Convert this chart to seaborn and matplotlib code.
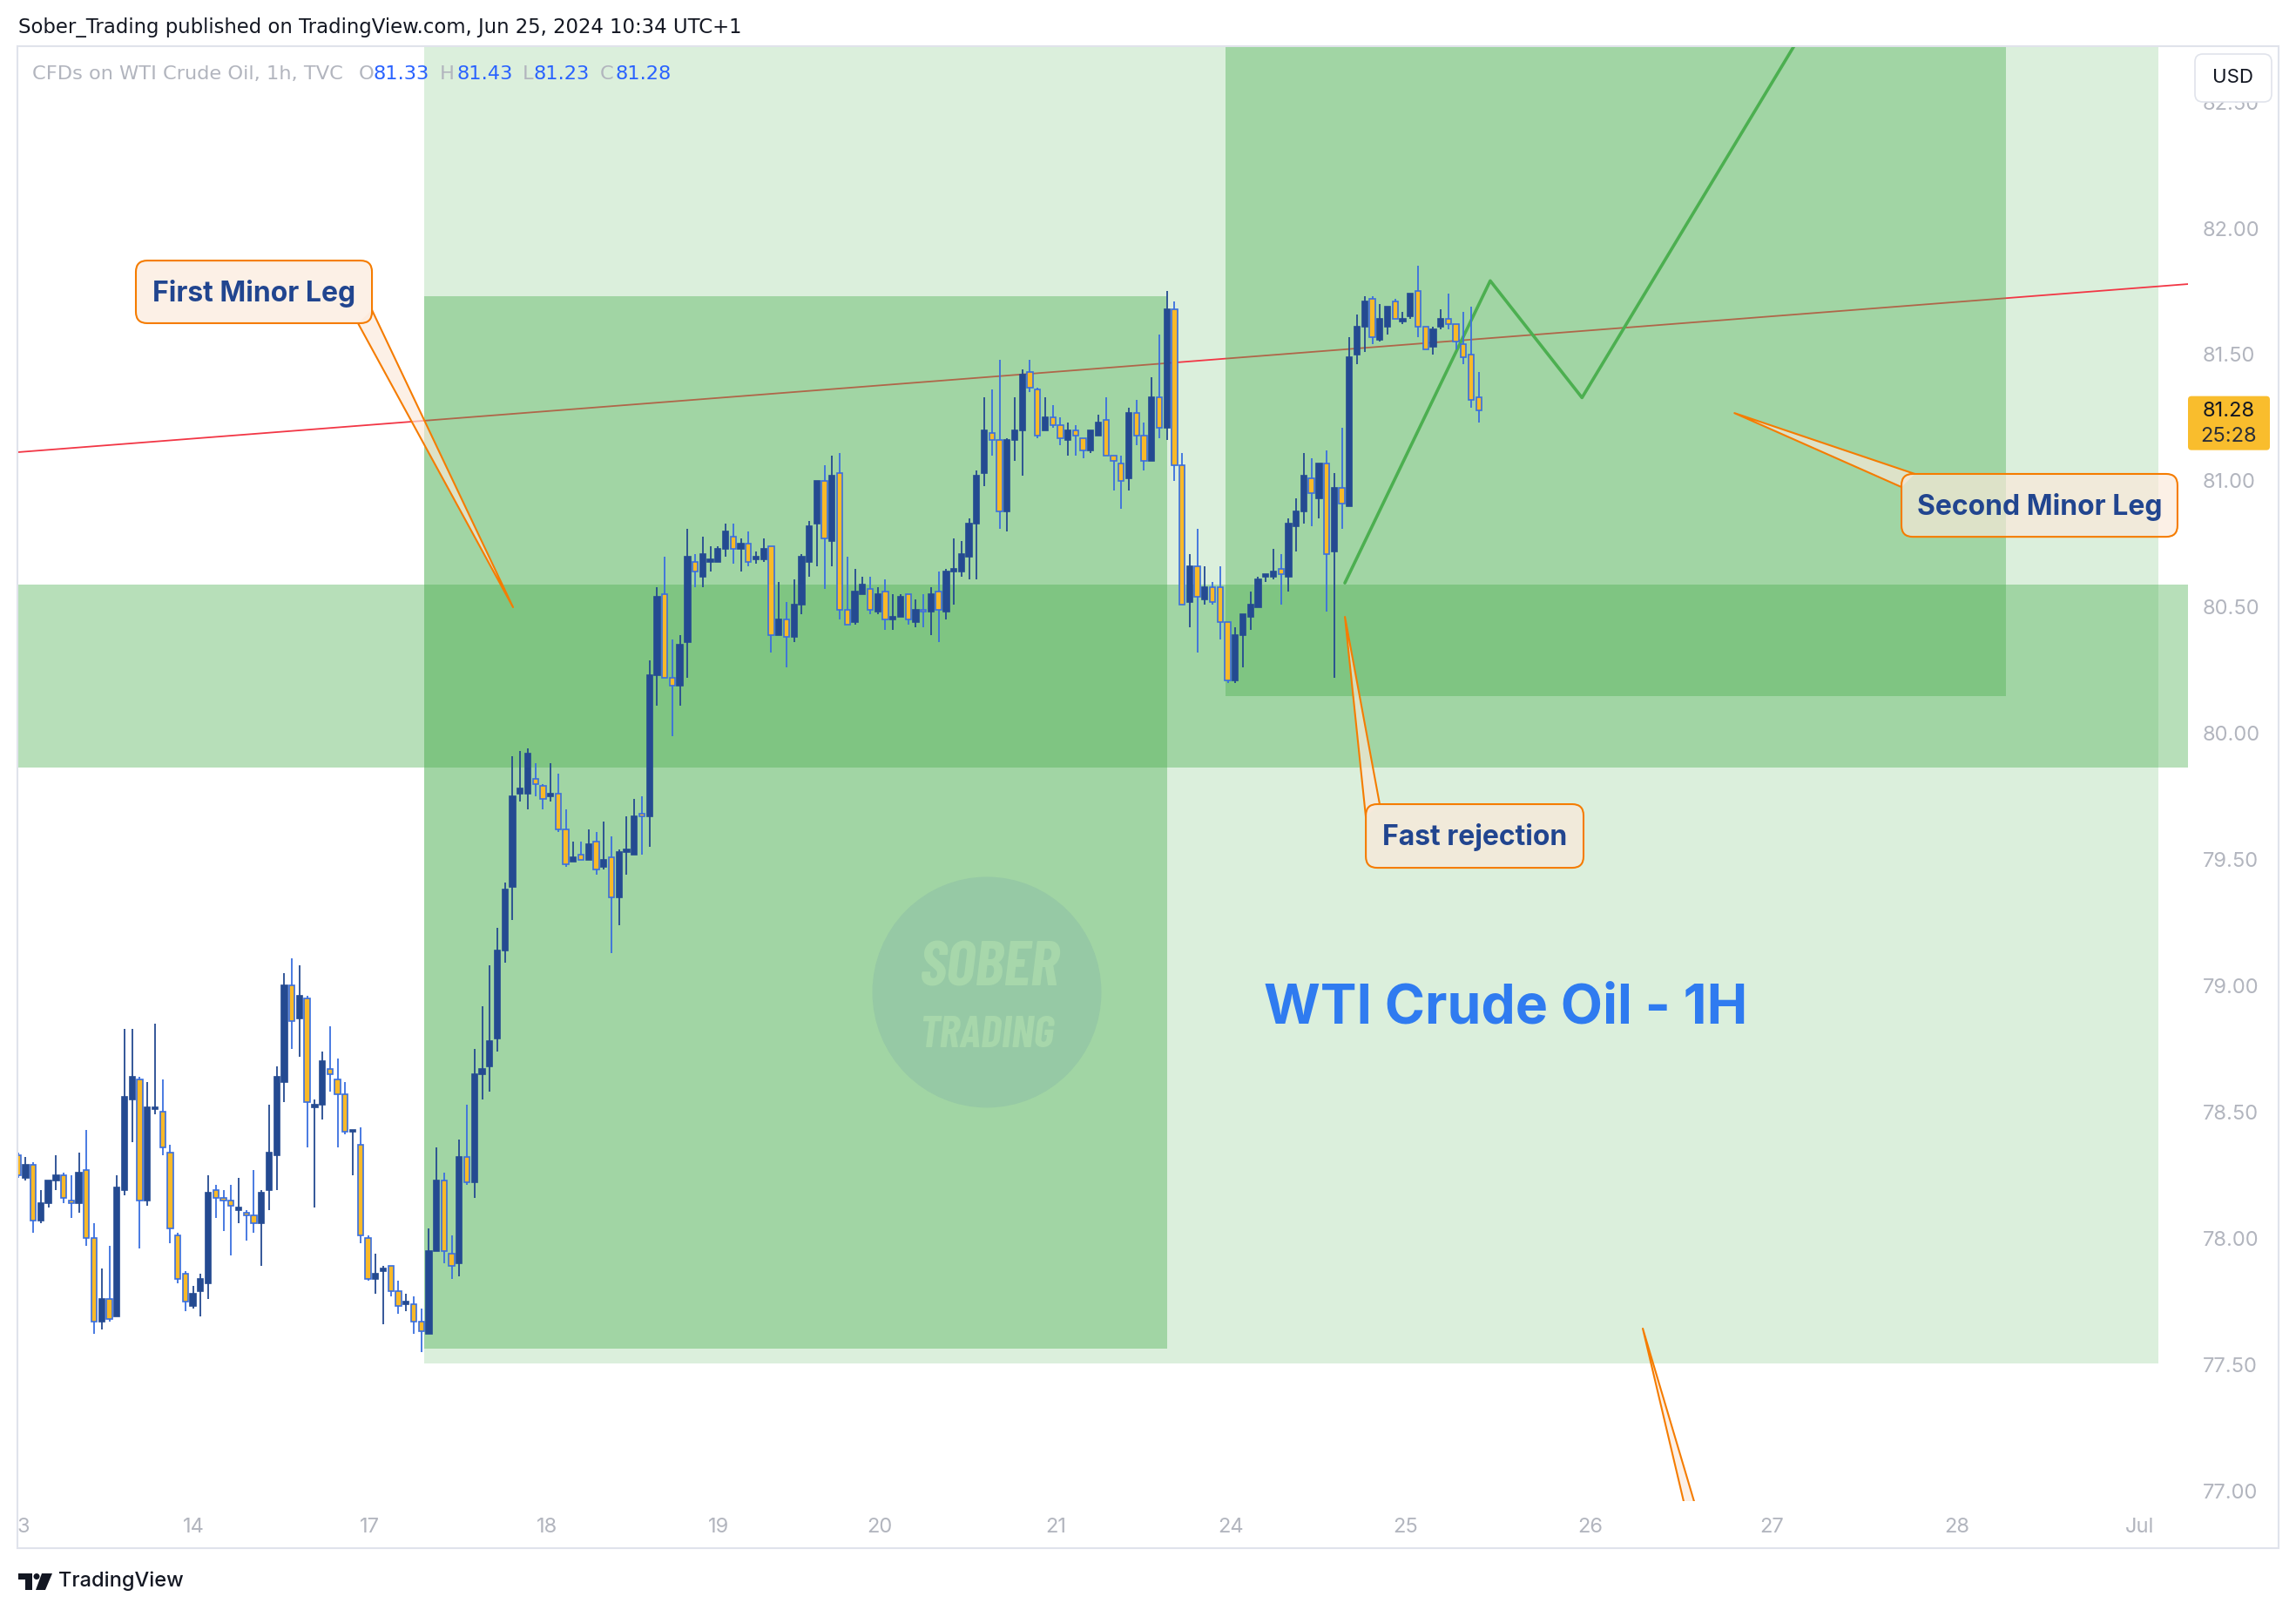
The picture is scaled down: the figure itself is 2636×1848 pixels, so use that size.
import numpy as np
import pandas as pd
import seaborn as sns
import matplotlib.pyplot as plt
from matplotlib.patches import Rectangle, FancyBboxPatch, Polygon, Ellipse, Circle
from matplotlib import transforms as mtransforms

# WTI crude oil CFD (TVC), 1h candles, 13 Jun -> 25 Jun 2024
opens = [
    78.33, 78.24, 78.29, 78.07, 78.14, 78.23, 78.25, 78.15, 78.14, 78.27,
    78.00, 77.67, 77.76, 77.69, 78.19, 78.55, 78.63, 78.15, 78.51, 78.50,
    78.34, 78.01, 77.86, 77.73, 77.79, 77.82, 78.19, 78.16, 78.15, 78.11,
    78.10, 78.09, 78.06, 78.19, 78.33, 78.62, 79.00, 78.87, 78.95, 78.52,
    78.53, 78.67, 78.63, 78.57, 78.42, 78.37, 78.00, 77.84, 77.87, 77.89,
    77.79, 77.74, 77.74, 77.67, 77.62, 77.95, 78.23, 77.94, 77.90, 78.32,
    78.22, 78.65, 78.68, 78.79, 79.14, 79.39, 79.76, 79.76, 79.82, 79.79,
    79.75, 79.76, 79.62, 79.49, 79.52, 79.50, 79.57, 79.47, 79.51, 79.35,
    79.53, 79.52, 79.68, 79.67, 80.23, 80.55, 80.22, 80.19, 80.36, 80.68,
    80.62, 80.68, 80.68, 80.73, 80.78, 80.73, 80.75, 80.69, 80.69, 80.74,
    80.39, 80.45, 80.38, 80.51, 80.68, 80.83, 81.00, 80.76, 81.03, 80.49,
    80.44, 80.55, 80.57, 80.48, 80.56, 80.45, 80.46, 80.55, 80.44, 80.49,
    80.48, 80.56, 80.48, 80.64, 80.64, 80.70, 80.83, 81.03, 81.19, 81.16,
    80.88, 81.16, 81.20, 81.43, 81.36, 81.20, 81.25, 81.22, 81.16, 81.20,
    81.17, 81.12, 81.18, 81.24, 81.10, 81.07, 81.01, 81.27, 81.18, 81.08,
    81.33, 81.21, 81.68, 81.06, 80.52, 80.66, 80.53, 80.58, 80.58, 80.44,
    80.21, 80.39, 80.46, 80.50, 80.62, 80.62, 80.65, 80.62, 80.82, 80.88,
    81.01, 80.93, 81.07, 80.72, 80.97, 80.90, 81.50, 81.61, 81.72, 81.56,
    81.61, 81.71, 81.63, 81.65, 81.75, 81.61, 81.53, 81.61, 81.64, 81.62,
    81.54, 81.50, 81.33,
]
highs = [
    78.34, 78.32, 78.30, 78.19, 78.23, 78.33, 78.26, 78.25, 78.34, 78.43,
    78.06, 77.88, 77.97, 78.25, 78.83, 78.83, 78.64, 78.62, 78.85, 78.63,
    78.37, 78.02, 77.87, 77.81, 77.86, 78.25, 78.21, 78.19, 78.21, 78.24,
    78.11, 78.27, 78.19, 78.53, 78.68, 79.05, 79.11, 79.08, 78.96, 78.55,
    78.74, 78.84, 78.71, 78.62, 78.43, 78.44, 78.01, 77.94, 77.89, 77.89,
    77.83, 77.78, 77.77, 77.72, 78.04, 78.36, 78.26, 78.01, 78.39, 78.53,
    78.75, 78.92, 79.08, 79.23, 79.41, 79.91, 79.93, 79.94, 79.88, 79.80,
    79.88, 79.84, 79.70, 79.57, 79.57, 79.62, 79.61, 79.65, 79.59, 79.54,
    79.67, 79.74, 79.75, 80.29, 80.58, 80.70, 80.37, 80.39, 80.81, 80.71,
    80.78, 80.74, 80.74, 80.83, 80.83, 80.77, 80.80, 80.72, 80.77, 80.74,
    80.60, 80.52, 80.61, 80.71, 80.84, 81.00, 81.06, 81.10, 81.11, 80.70,
    80.65, 80.62, 80.62, 80.58, 80.61, 80.55, 80.55, 80.55, 80.53, 80.55,
    80.58, 80.64, 80.65, 80.77, 80.76, 80.85, 81.04, 81.33, 81.36, 81.48,
    81.17, 81.33, 81.44, 81.48, 81.37, 81.33, 81.30, 81.25, 81.23, 81.22,
    81.17, 81.20, 81.26, 81.33, 81.10, 81.10, 81.29, 81.32, 81.23, 81.41,
    81.58, 81.75, 81.71, 81.11, 80.71, 80.81, 80.66, 80.60, 80.66, 80.44,
    80.42, 80.47, 80.56, 80.62, 80.63, 80.73, 80.71, 80.85, 80.93, 81.11,
    81.09, 81.07, 81.12, 81.03, 81.21, 81.57, 81.66, 81.73, 81.73, 81.70,
    81.69, 81.72, 81.67, 81.74, 81.85, 81.61, 81.61, 81.68, 81.74, 81.62,
    81.67, 81.69, 81.43,
]
lows = [
    78.24, 78.23, 78.02, 78.06, 78.12, 78.19, 78.14, 78.08, 78.10, 77.97,
    77.62, 77.64, 77.67, 77.69, 78.17, 78.38, 77.96, 78.13, 78.49, 78.33,
    77.98, 77.82, 77.71, 77.72, 77.69, 77.76, 78.08, 78.03, 77.93, 78.06,
    77.99, 78.02, 77.89, 78.11, 78.19, 78.54, 78.75, 78.72, 78.36, 78.12,
    78.47, 78.58, 78.36, 78.41, 78.25, 77.98, 77.83, 77.78, 77.66, 77.77,
    77.70, 77.71, 77.62, 77.55, 77.62, 77.95, 77.90, 77.84, 77.85, 78.21,
    78.16, 78.55, 78.58, 78.74, 79.09, 79.26, 79.73, 79.70, 79.75, 79.70,
    79.73, 79.61, 79.47, 79.49, 79.50, 79.50, 79.44, 79.46, 79.13, 79.24,
    79.44, 79.52, 79.52, 79.55, 80.11, 80.22, 79.99, 80.11, 80.22, 80.58,
    80.58, 80.64, 80.68, 80.70, 80.67, 80.64, 80.66, 80.67, 80.68, 80.32,
    80.39, 80.26, 80.36, 80.47, 80.62, 80.66, 80.57, 80.66, 80.45, 80.43,
    80.43, 80.55, 80.47, 80.47, 80.41, 80.41, 80.46, 80.43, 80.42, 80.42,
    80.39, 80.36, 80.45, 80.51, 80.62, 80.61, 80.61, 80.98, 81.10, 80.81,
    80.80, 81.08, 81.02, 81.35, 81.17, 81.20, 81.21, 81.14, 81.10, 81.10,
    81.09, 81.11, 81.18, 81.10, 80.96, 80.89, 80.96, 81.14, 81.04, 81.08,
    81.17, 81.16, 81.00, 80.51, 80.42, 80.32, 80.51, 80.51, 80.37, 80.20,
    80.20, 80.26, 80.41, 80.50, 80.60, 80.61, 80.51, 80.56, 80.72, 80.83,
    80.82, 80.85, 80.48, 80.22, 80.81, 80.90, 81.46, 81.51, 81.54, 81.55,
    81.58, 81.64, 81.62, 81.64, 81.57, 81.52, 81.50, 81.60, 81.60, 81.52,
    81.46, 81.29, 81.23,
]
closes = [
    78.25, 78.29, 78.07, 78.14, 78.23, 78.25, 78.16, 78.14, 78.26, 78.00,
    77.67, 77.76, 77.68, 78.20, 78.56, 78.64, 78.15, 78.52, 78.52, 78.36,
    78.04, 77.84, 77.75, 77.78, 77.84, 78.18, 78.16, 78.15, 78.13, 78.12,
    78.09, 78.06, 78.18, 78.34, 78.64, 79.00, 78.86, 78.96, 78.54, 78.53,
    78.70, 78.65, 78.57, 78.42, 78.43, 78.01, 77.84, 77.86, 77.88, 77.79,
    77.73, 77.75, 77.67, 77.63, 77.95, 78.23, 77.95, 77.89, 78.32, 78.22,
    78.65, 78.67, 78.78, 79.14, 79.38, 79.75, 79.78, 79.92, 79.80, 79.74,
    79.76, 79.62, 79.48, 79.51, 79.50, 79.56, 79.46, 79.50, 79.35, 79.53,
    79.54, 79.67, 79.67, 80.23, 80.54, 80.22, 80.19, 80.35, 80.70, 80.64,
    80.71, 80.69, 80.73, 80.80, 80.73, 80.75, 80.68, 80.70, 80.73, 80.39,
    80.45, 80.38, 80.51, 80.70, 80.82, 81.00, 80.77, 81.02, 80.49, 80.43,
    80.56, 80.59, 80.49, 80.55, 80.45, 80.46, 80.54, 80.45, 80.49, 80.48,
    80.55, 80.49, 80.64, 80.65, 80.71, 80.83, 81.02, 81.20, 81.16, 80.88,
    81.16, 81.20, 81.42, 81.37, 81.18, 81.25, 81.22, 81.17, 81.20, 81.18,
    81.12, 81.20, 81.23, 81.10, 81.08, 81.00, 81.27, 81.18, 81.08, 81.33,
    81.21, 81.68, 81.06, 80.51, 80.66, 80.54, 80.58, 80.52, 80.44, 80.21,
    80.39, 80.47, 80.51, 80.61, 80.63, 80.64, 80.63, 80.83, 80.88, 81.02,
    80.95, 81.07, 80.71, 80.97, 80.91, 81.49, 81.61, 81.71, 81.57, 81.64,
    81.69, 81.64, 81.64, 81.74, 81.61, 81.52, 81.60, 81.64, 81.62, 81.55,
    81.49, 81.32, 81.28,
]

day_labels = ["3", "14", "17", "18", "19", "20", "21", "24", "25", "26", "27", "28", "Jul"]
day_ticks = [0.72, 23.05, 46.17, 69.52, 92.08, 113.3, 136.4, 159.4, 182.4, 206.6, 230.5, 254.8, 278.8]
price_ticks = [77.0, 77.5, 78.0, 78.5, 79.0, 79.5, 80.0, 80.5, 81.0, 81.5, 82.0, 82.5]

# drawings on the chart, in (bar, price)
trend_x = [-0.08, 285.21]
trend_y = [81.113, 81.779]
path_x = [174.39, 193.5, 205.56, 239.0]
path_y = [80.595, 81.792, 81.329, 83.0]
# (bar0, bar1, price0, price1, opacity)
boxes = [
    (53.44, 281.3, 77.504, 83.5, 0.2),
    (53.44, 151.0, 77.562, 81.731, 0.4),
    (158.7, 261.3, 80.147, 83.5, 0.4),
    (-2.0, 290.0, 79.864, 80.589, 0.4),
]
callout_texts = ["First Minor Leg", "Second Minor Leg", "Fast rejection"]
callout_boxes = [(15.49, 46.52, 81.624, 81.872), (247.55, 283.83, 80.778, 81.027), (177.15, 205.76, 79.467, 79.719)]
callout_base = [81.710, 80.865, 79.557]
callout_tips = [
    [(44.68, 81.624), (65.06, 80.499), (46.52, 81.676)],
    [(249.3, 81.027), (225.6, 81.268), (247.55, 80.975)],
    [(178.97, 79.719), (174.4, 80.461), (177.15, 79.667)],
    [(221.0, 76.693), (213.55, 77.642), (222.9, 76.693)],
]

NAVY = "#244a91"
BLUE = "#3a6fdf"
YELLOW = "#f9b928"
GREEN = "#4caf50"
ORANGE = "#f57c00"
FILL = (252 / 255, 233 / 255, 218 / 255, 0.67)
LABEL_TXT = "#21458f"
AXIS_TXT = "#b2b5be"

sns.set_style("white")
plt.rcParams["font.family"] = ["Inter", "DejaVu Sans"]

W, H = 2636, 1848
fig = plt.figure(figsize=(W / 100, H / 100), dpi=100)
fig.patch.set_facecolor("white")
px = mtransforms.Affine2D().scale(1, -1).translate(0, H)  # pixels from top-left

AX_L, AX_R, AX_T, AX_B = 20, 2512, 53, 1723
ax = fig.add_axes([AX_L / W, 1 - AX_B / H, (AX_R - AX_L) / W, (AX_B - AX_T) / H])
xlim = (-0.08, 285.21)
ylim = (76.9586, 82.7212)
ax.set_xlim(*xlim)
ax.set_ylim(*ylim)
ppb = (AX_R - AX_L) / (xlim[1] - xlim[0])
ppp = (AX_B - AX_T) / (ylim[1] - ylim[0])
asp = ppb / ppp

# zones
for i, (x0, x1, y0, y1, a) in enumerate(boxes):
    ax.add_patch(Rectangle((x0, y0), x1 - x0, y1 - y0, facecolor=GREEN, alpha=a, lw=0,
                           zorder=1 if i == 0 else 3))

sns.lineplot(x=trend_x, y=trend_y, color="#f23645", lw=1.3, ax=ax, zorder=2)
sns.lineplot(x=path_x, y=path_y, sort=False, color=GREEN, lw=2.6, ax=ax, zorder=4)

# watermark
ax.add_patch(Ellipse((127.34, 78.974), 263 / ppb, 265 / ppp, facecolor="#96c9a5", lw=0, zorder=3.5))
wm = dict(ha="center", va="baseline", color="#a7d7ab", fontweight="bold", fontstyle="italic",
          family=["Barlow Condensed", "Fira Sans Extra Condensed", "DejaVu Sans"], zorder=3.6)
ax.text(127.7, 78.998, "SOBER", fontsize=52, **wm)
ax.text(127.34, 78.756, "TRADING", fontsize=37, **wm)

# candles
df = pd.DataFrame({"open": opens, "high": highs, "low": lows, "close": closes})
df["bar"] = np.arange(len(df))
up = df["close"] >= df["open"]
body = (df["close"] - df["open"]).abs().clip(lower=0.004)
ax.vlines(df.loc[up, "bar"], df.loc[up, "low"], df.loc[up, "high"], color=NAVY, lw=1.3, zorder=5)
ax.vlines(df.loc[~up, "bar"], df.loc[~up, "low"], df.loc[~up, "high"], color=BLUE, lw=1.3, zorder=5)
ax.bar(df.loc[up, "bar"], body[up], bottom=df.loc[up, "open"], width=0.72,
       color=NAVY, edgecolor=NAVY, linewidth=1.2, zorder=6)
ax.bar(df.loc[~up, "bar"], body[~up], bottom=df.loc[~up, "close"], width=0.72,
       color=YELLOW, edgecolor=BLUE, linewidth=1.2, zorder=6)

# callouts
for pts in callout_tips:
    ax.add_patch(Polygon(pts, closed=True, facecolor=FILL, edgecolor="none", zorder=7.5))
    ax.plot([p[0] for p in pts], [p[1] for p in pts], color=ORANGE, lw=1.5, zorder=7.6)
for text, (x0, x1, y0, y1), yb in zip(callout_texts, callout_boxes, callout_base):
    ax.add_patch(FancyBboxPatch((x0, y0), x1 - x0, y1 - y0,
                                boxstyle=f"round,pad=0,rounding_size={13 / ppb:.3f}",
                                mutation_aspect=asp, facecolor=FILL, edgecolor=ORANGE,
                                lw=1.5, zorder=8))
    ax.text((x0 + x1) / 2, yb, text, ha="center", va="baseline", fontsize=23,
            fontweight="bold", color=LABEL_TXT, zorder=9)

ax.text(195.5, 78.850, "WTI Crude Oil - 1H", ha="center", va="baseline", fontsize=45,
        fontweight="bold", color="#2f7bf0", zorder=9)

# axes
for s in ax.spines.values():
    s.set_visible(False)
ax.grid(False)
ax.yaxis.tick_right()
ax.set_yticks(price_ticks)
ax.set_yticklabels([f"{p:.2f}" for p in price_ticks])
ax.set_xticks(day_ticks)
ax.set_xticklabels(day_labels)
ax.tick_params(axis="y", length=0, pad=12, labelsize=17, labelcolor=AXIS_TXT)
ax.tick_params(axis="x", length=0, pad=14, labelsize=17, labelcolor=AXIS_TXT)

# frame and header
fig.add_artist(Rectangle((20, 53), 2596, 1724, transform=px, fill=False, edgecolor="#e0e3eb", lw=1.5))
fig.text(21, 38, "Sober_Trading published on TradingView.com, Jun 25, 2024 10:34 UTC+1",
         transform=px, fontsize=16.4, color="#131722", va="baseline", family="DejaVu Sans")
legend = [("CFDs on WTI Crude Oil, 1h, TVC", 37, AXIS_TXT),
          ("O", 412, AXIS_TXT), (f"{opens[-1]:.2f}", 429, "#2962ff"),
          ("H", 505, AXIS_TXT), (f"{highs[-1]:.2f}", 524, "#2962ff"),
          ("L", 600, AXIS_TXT), (f"{lows[-1]:.2f}", 613, "#2962ff"),
          ("C", 689, AXIS_TXT), (f"{closes[-1]:.2f}", 706, "#2962ff")]
for s, x, c in legend:
    fig.text(x, 91, s, transform=px, fontsize=16.2, color=c, va="baseline", zorder=10,
             family="DejaVu Sans")

# currency button
fig.add_artist(FancyBboxPatch((2520, 62), 88, 55, boxstyle="round,pad=0,rounding_size=9",
                              transform=px, facecolor="white", edgecolor="#e0e3eb", lw=1.2, zorder=5))
fig.text(2564, 89, "USD", transform=px, fontsize=16, color="#131722", ha="center", va="center", zorder=6)

# last price tag
fig.canvas.draw()
tag_y = H - ax.transData.transform((0, closes[-1]))[1]
fig.add_artist(FancyBboxPatch((2512, tag_y - 16), 94, 62, boxstyle="round,pad=0,rounding_size=4",
                              transform=px, facecolor="#f9bd2d", edgecolor="none", zorder=5))
fig.text(2559, tag_y + 1, f"{closes[-1]:.2f}", transform=px, fontsize=17, color="#131722",
         ha="center", va="center", zorder=6)
fig.text(2559, tag_y + 30, "25:28", transform=px, fontsize=17, color="#2a2e39",
         ha="center", va="center", zorder=6)

# TradingView logo
fig.add_artist(Polygon([(21, 1806), (37, 1806), (37, 1825), (29, 1825), (29, 1813), (21, 1813)],
                       transform=px, facecolor="#131722", lw=0))
fig.add_artist(Circle((42, 1809.5), 3.5, transform=px, facecolor="#131722", lw=0))
fig.add_artist(Polygon([(48, 1806), (60, 1806), (52, 1825), (41, 1825)], transform=px,
                       facecolor="#131722", lw=0))
fig.text(67, 1815, "TradingView", transform=px, fontsize=17, color="#131722",
         va="center", fontweight="medium")

fig.savefig("out.png", dpi=100)
